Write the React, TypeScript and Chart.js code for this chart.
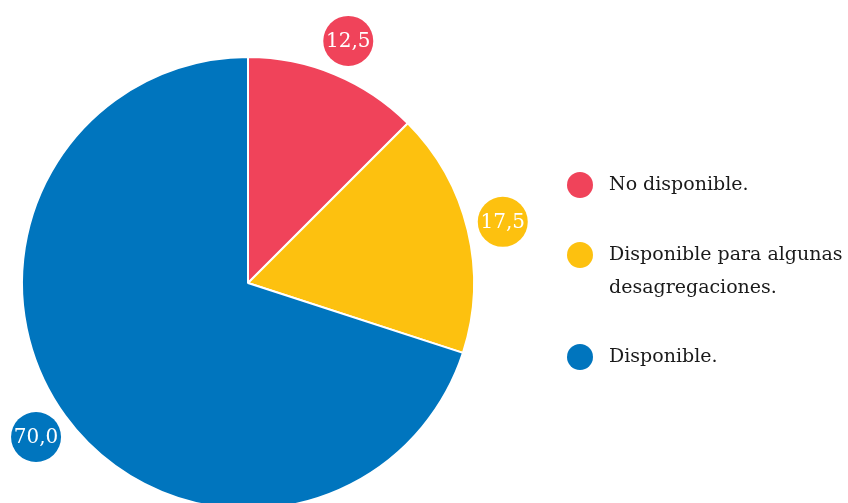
import React, { useEffect, useRef } from "react";
import { Chart, registerables } from "chart.js";

Chart.register(...registerables);

const categories: string[][] = [
  ["No disponible."],
  ["Disponible para algunas", "desagregaciones."],
  ["Disponible."],
];
const values: number[] = [12.5, 17.5, 70.0];
const colors: string[] = ["#F0435A", "#FDC10F", "#0075BE"];
const valueLabels: string[] = ["12,5", "17,5", "70,0"];

const FONT = '"DejaVu Serif", "Liberation Serif", serif';

const overlayPlugin = {
  id: "overlay",
  afterDatasetsDraw(chart: any) {
    const ctx = chart.ctx as CanvasRenderingContext2D;
    const meta = chart.getDatasetMeta(0);
    ctx.save();
    meta.data.forEach((arc: any, i: number) => {
      const { x, y, startAngle, endAngle, outerRadius } = arc.getProps(
        ["x", "y", "startAngle", "endAngle", "outerRadius"],
        true
      );
      const mid = (startAngle + endAngle) / 2;
      const d = outerRadius + 36;
      const cx = x + Math.cos(mid) * d;
      const cy = y + Math.sin(mid) * d;
      ctx.beginPath();
      ctx.arc(cx, cy, 25, 0, Math.PI * 2);
      ctx.fillStyle = colors[i];
      ctx.fill();
      ctx.fillStyle = "#ffffff";
      ctx.font = `20px ${FONT}`;
      ctx.textAlign = "center";
      ctx.textBaseline = "middle";
      ctx.fillText(valueLabels[i], cx, cy + 1);
    });
    // legend
    const legendX = 580;
    const textX = 609;
    const rows = [185, 255, 357];
    const lineH = 33;
    categories.forEach((lines, i) => {
      const y = rows[i];
      ctx.beginPath();
      ctx.arc(legendX, y, 13, 0, Math.PI * 2);
      ctx.fillStyle = colors[i];
      ctx.fill();
      ctx.fillStyle = "#1a1a1a";
      ctx.font = `19px ${FONT}`;
      ctx.textAlign = "left";
      ctx.textBaseline = "middle";
      lines.forEach((ln, j) => ctx.fillText(ln, textX, y + j * lineH));
    });
    ctx.restore();
  },
};

export default function App() {
  const ref = useRef<HTMLCanvasElement | null>(null);
  useEffect(() => {
    document.body.style.margin = "0";
    const chart = new Chart(ref.current as HTMLCanvasElement, {
      type: "pie",
      data: {
        labels: categories.map((c) => c.join(" ")),
        datasets: [
          {
            data: values,
            backgroundColor: colors,
            borderColor: "#ffffff",
            borderWidth: 2,
          },
        ],
      },
      options: {
        animation: false,
        responsive: false,
        maintainAspectRatio: false,
        layout: { padding: { left: 21, right: 373, top: 56, bottom: 30 } },
        plugins: {
          legend: { display: false },
          tooltip: { enabled: false },
        },
      },
      plugins: [overlayPlugin],
    });
    return () => chart.destroy();
  }, []);
  return (
    <div style={{ position: "absolute", left: 0, top: 0, width: 848, height: 503, overflow: "hidden" }}>
      <canvas ref={ref} width={848} height={540} style={{ display: "block" }} />
    </div>
  );
}
